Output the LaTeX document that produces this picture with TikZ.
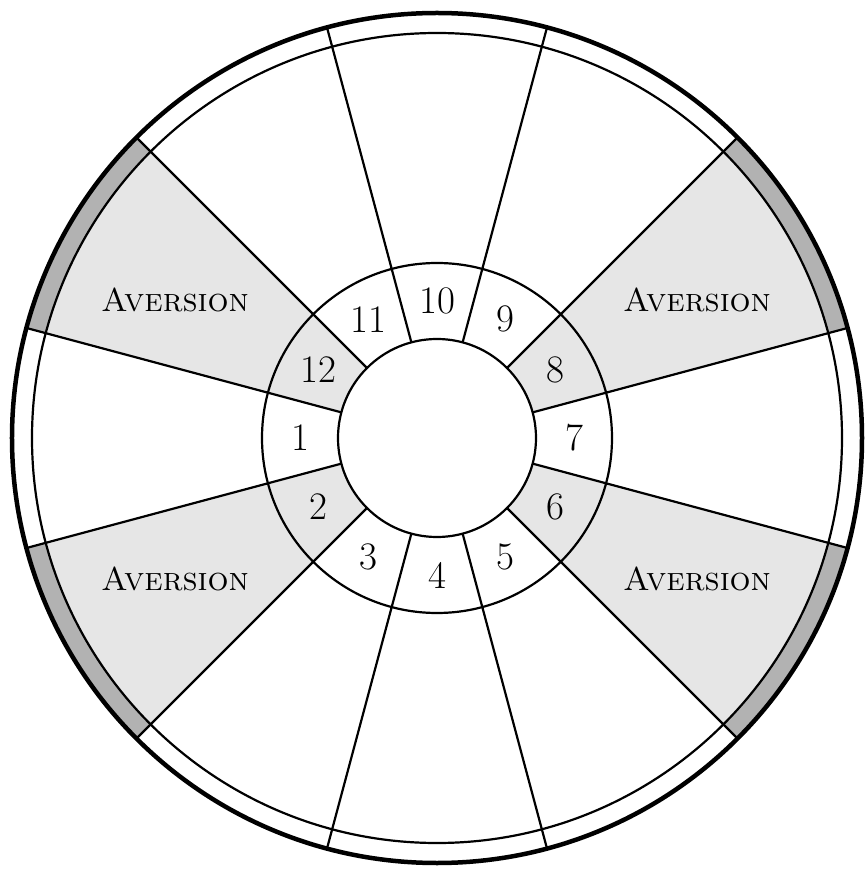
\documentclass[tikz,border=0pt]{standalone}
\usepackage{fontspec}
\definecolor{lightshade}{RGB}{230,230,230}
\definecolor{bandshade}{RGB}{178,178,178}
\tikzset{
  thinline/.style={line width=2.2pt, draw=black},
  thickline/.style={line width=4.5pt, draw=black},
  numlabel/.style={font=\fontsize{39}{39}\selectfont, inner sep=0pt},
  avlabel/.style={font=\fontsize{33}{33}\selectfont\scshape, inner sep=0pt}
}
\begin{document}
\begin{tikzpicture}[x=1pt,y=1pt]
\useasboundingbox (-437,-431) rectangle (427,438);
\def\Rout{425}
\def\Rband{405}
\def\Rring{175}
\def\Rin{99}
% shaded sectors (houses 12, 8, 6, 2)
\foreach \a in {135,15,-45,195}{
  \pgfmathsetmacro{\b}{\a+30}
  \fill[lightshade] (\a:\Rin) arc[start angle=\a, end angle=\b, radius=\Rin]
     -- (\b:\Rband) arc[start angle=\b, end angle=\a, radius=\Rband] -- cycle;
  \fill[bandshade] (\a:\Rband) arc[start angle=\a, end angle=\b, radius=\Rband]
     -- (\b:\Rout) arc[start angle=\b, end angle=\a, radius=\Rout] -- cycle;
}
% circles
\draw[thinline] (0,0) circle[radius=\Rin];
\draw[thinline] (0,0) circle[radius=\Rring];
\draw[thinline] (0,0) circle[radius=\Rband];
\draw[thickline] (0,0) circle[radius=\Rout];
% spokes
\foreach \a in {15,45,...,345}{
  \draw[thinline] (\a:\Rin) -- (\a:\Rout);
}
% house numbers
\foreach \n in {1,...,12}{
  \pgfmathsetmacro{\ang}{180+30*(\n-1)}
  \node[numlabel] (h\n) at (\ang:137) {\n};
}
% aversion labels
\node[avlabel] (av12) at (-262,138) {Aversion};
\node[avlabel] (av8) at (260,138) {Aversion};
\node[avlabel] (av2) at (-262,-141) {Aversion};
\node[avlabel] (av6) at (260,-141) {Aversion};
\end{tikzpicture}
\end{document}
